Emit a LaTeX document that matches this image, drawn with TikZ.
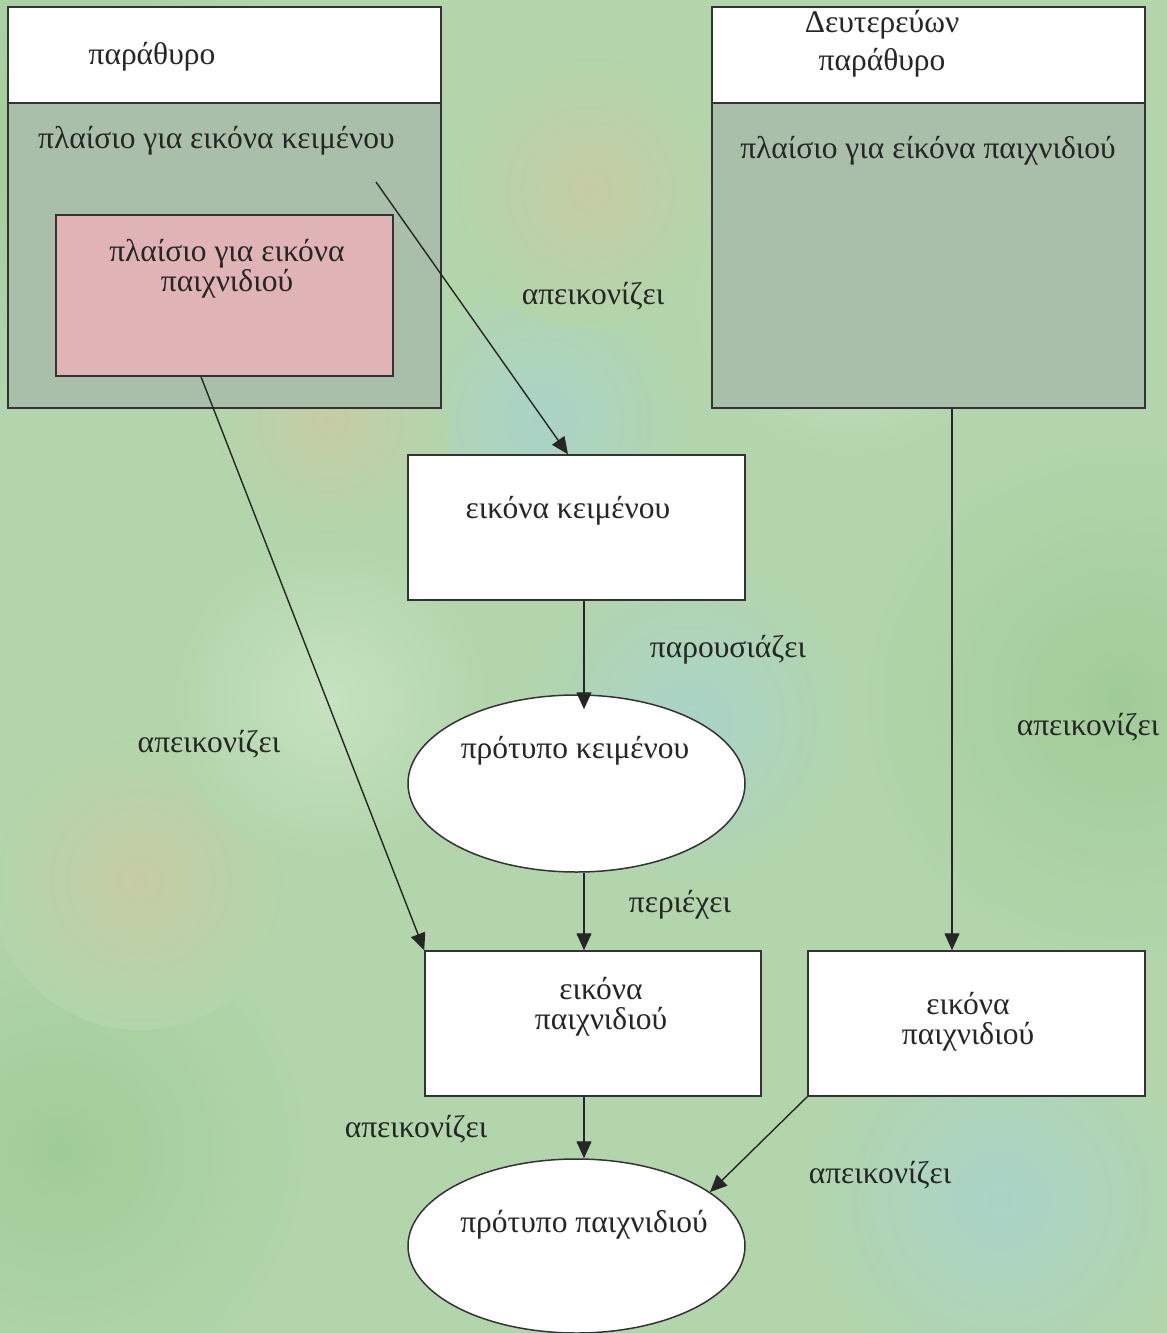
\documentclass[tikz,border=0pt]{standalone}
\usepackage{fontspec}
\setmainfont{Liberation Serif}
\usetikzlibrary{arrows.meta,shapes.geometric,calc}
\definecolor{bgbase}{HTML}{B2D5AB}
\definecolor{bggreen}{HTML}{A0CC98}
\definecolor{bgblue}{HTML}{AAD3C8}
\definecolor{bgtan}{HTML}{C6CCA4}
\definecolor{bglight}{HTML}{C6E2C0}
\definecolor{winbody}{HTML}{AABFA9}
\definecolor{pinkbox}{HTML}{E0B4B6}
\definecolor{edge}{HTML}{333333}
\definecolor{ink}{HTML}{262626}
\tikzset{
  panel/.style={draw=edge, line width=1.5pt, inner sep=0pt, rectangle},
  whitebox/.style={panel, fill=white},
  oval/.style={draw=edge, line width=1.5pt, inner sep=0pt, ellipse, fill=white},
  txt/.style={text=ink, font=\fontsize{31.5}{30}\selectfont, inner sep=0pt, anchor=base, align=center},
  link/.style={draw=ink, line width=1.4pt, -{Triangle[length=17pt,width=15pt]}}
}
\begin{document}
\begin{tikzpicture}[x=1pt,y=-1pt]
\useasboundingbox (0,0) rectangle (1167,1333);
% background
\fill[bgbase] (0,0) rectangle (1167,1333);
\begin{scope}
\clip (0,0) rectangle (1167,1333);
\shade[inner color=bggreen, outer color=bgbase] (60,150) circle (260);
\shade[inner color=bggreen, outer color=bgbase] (1120,700) circle (260);
\shade[inner color=bggreen, outer color=bgbase] (60,1150) circle (250);
\shade[inner color=bgblue, outer color=bgbase] (540,420) circle (150);
\shade[inner color=bgblue, outer color=bgbase] (690,720) circle (170);
\shade[inner color=bgblue, outer color=bgbase] (1000,1200) circle (200);
\shade[inner color=bgtan, outer color=bgbase] (590,190) circle (140);
\shade[inner color=bgtan, outer color=bgbase] (140,880) circle (150);
\shade[inner color=bgtan, outer color=bgbase] (330,420) circle (120);
\shade[inner color=bglight, outer color=bgbase] (330,700) circle (160);
\shade[inner color=bglight, outer color=bgbase] (850,300) circle (160);
\end{scope}

% left window
\node[whitebox, minimum width=433pt, minimum height=96pt] (lwhead) at (224.5,55) {};
\node[panel, fill=winbody, minimum width=433pt, minimum height=305pt] (lwbody) at (224.5,255.5) {};
\node[panel, fill=pinkbox, minimum width=337pt, minimum height=161pt] (pink) at (224.5,295.5) {};
\node[txt] (t1) at (152,64) {παράθυρο};
\node[txt] (t2) at (216.5,148) {πλαίσιο για εικόνα κειμένου};
\node[txt] (t3) at (227,291) {πλαίσιο για εικόνα\\παιχνιδιού};

% right window
\node[whitebox, minimum width=433pt, minimum height=96pt] (rwhead) at (928.5,55) {};
\node[panel, fill=winbody, minimum width=433pt, minimum height=305pt] (rwbody) at (928.5,255.5) {};
\node[txt, font=\fontsize{31.5}{38}\selectfont] (t4) at (882,70) {Δευτερεύων\\παράθυρο};
\node[txt] (t5) at (928,158) {πλαίσιο για είκόνα παιχνιδιού};

% middle column
\node[whitebox, minimum width=337pt, minimum height=145pt] (ek) at (576.5,527.5) {};
\node[txt] (t6) at (568,518) {εικόνα κειμένου};
\node[oval, minimum width=337pt, minimum height=177pt] (pk) at (576.5,783.5) {};
\node[txt] (t7) at (575,758) {πρότυπο κειμένου};
\node[whitebox, minimum width=336pt, minimum height=145pt] (ep) at (593,1023.5) {};
\node[txt] (t8) at (601,1029) {εικόνα\\παιχνιδιού};
\node[whitebox, minimum width=337pt, minimum height=145pt] (ep2) at (976.5,1023.5) {};
\node[txt] (t9) at (968,1044) {εικόνα\\παιχνιδιού};
\node[oval, minimum width=337pt, minimum height=174pt] (pp) at (576.5,1246) {};
\node[txt] (t10) at (584,1232) {πρότυπο παιχνιδιού};

% connectors
\coordinate (s1) at (376,182);
\draw[link] (s1) -- ([xshift=-8.5pt]ek.north);
\draw[link] ([xshift=-23.5pt]pink.south) -- (ep.north west);
\draw[link] ([xshift=7.5pt]ek.south) -- ([xshift=7.5pt,yshift=-15pt]pk.north);
\draw[link] ([xshift=7.5pt]pk.south) -- ([xshift=-9pt]ep.north);
\draw[link] ([xshift=23.5pt]rwbody.south) -- ([xshift=-24.5pt]ep2.north);
\draw[link] ([xshift=-9pt]ep.south) -- ([xshift=7.5pt]pp.north);
\draw[link] (ep2.south west) -- (pp.22);

% labels
\node[txt] (l1) at (593,304) {απεικονίζει};
\node[txt] (l2) at (209,752) {απεικονίζει};
\node[txt] (l3) at (728,657) {παρουσιάζει};
\node[txt] (l4) at (680,912) {περιέχει};
\node[txt] (l5) at (1088,735) {απεικονίζει};
\node[txt] (l6) at (416,1137) {απεικονίζει};
\node[txt] (l7) at (880,1183) {απεικονίζει};
\end{tikzpicture}
\end{document}
